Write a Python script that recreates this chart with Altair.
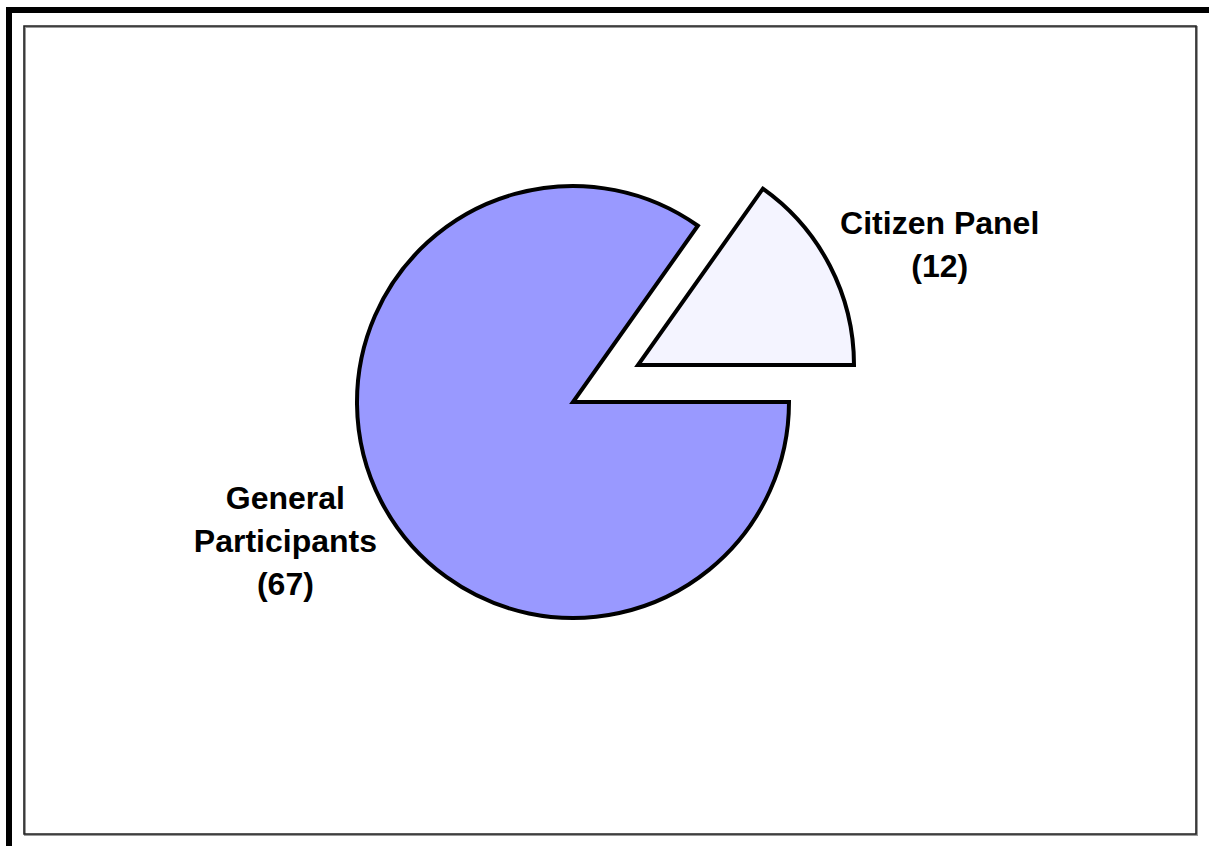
import math
import altair as alt
import pandas as pd

# ---- data ----
categories = ["General Participants", "Citizen Panel"]
values = [67, 12]
label_lines = ["General|Participants|(67)", "Citizen Panel|(12)"]
fills = ["#9999FF", "#F4F4FF"]

total = sum(values)
df = pd.DataFrame({"category": categories, "value": values, "label": label_lines, "fill": fills})
df["end"] = df["value"].cumsum()
df["start"] = df["end"] - df["value"]
df["mid"] = (df["start"] + df["end"]) / 2

W, H = 1209, 846
CX, CY = 573, 402
R = 216
EXPLODE_X, EXPLODE_Y = 65, -37

theta_scale = alt.Scale(domain=[0, total], range=[math.pi / 2, math.pi / 2 + 2 * math.pi])

base = alt.Chart(df)
frame_src = alt.Chart(pd.DataFrame({"k": [0]}))

outer_top = frame_src.mark_rule(color="black", strokeWidth=6, strokeCap="butt").encode(
    x=alt.value(6), x2=alt.value(W), y=alt.value(10)
)
outer_left = frame_src.mark_rule(color="black", strokeWidth=6, strokeCap="butt").encode(
    x=alt.value(9), y=alt.value(7), y2=alt.value(H)
)
inner_shadow = frame_src.mark_rect(fillOpacity=0, stroke="#9a9a9a", strokeWidth=2).encode(
    x=alt.value(25), x2=alt.value(1197), y=alt.value(27), y2=alt.value(835)
)
inner_frame = frame_src.mark_rect(fillOpacity=0, stroke="#222222", strokeWidth=1.6).encode(
    x=alt.value(24), x2=alt.value(1196), y=alt.value(26), y2=alt.value(834)
)

arc_common = dict(outerRadius=R, stroke="black", strokeWidth=4, strokeJoin="miter")

main_arc = base.transform_filter(alt.datum.category == "General Participants").mark_arc(**arc_common).encode(
    theta=alt.Theta("start:Q", scale=theta_scale),
    theta2="end:Q",
    fill=alt.Fill("fill:N", scale=None),
    x=alt.value(CX),
    y=alt.value(CY),
)
panel_arc = base.transform_filter(alt.datum.category == "Citizen Panel").mark_arc(
    xOffset=EXPLODE_X, yOffset=EXPLODE_Y, **arc_common
).encode(
    theta=alt.Theta("start:Q", scale=theta_scale),
    theta2="end:Q",
    fill=alt.Fill("fill:N", scale=None),
    x=alt.value(CX),
    y=alt.value(CY),
)

text_common = dict(font="Arial, Liberation Sans", fontWeight="bold", fontSize=32,
                   lineHeight=43, align="center", baseline="middle", color="black")

main_text = base.transform_filter(alt.datum.category == "General Participants").transform_calculate(
    lines="split(datum.label, '|')"
).mark_text(radius=317, dx=-6, dy=-49, **text_common).encode(
    theta=alt.Theta("mid:Q", scale=theta_scale),
    text=alt.Text("lines:N"),
    x=alt.value(CX),
    y=alt.value(CY),
)
panel_text = base.transform_filter(alt.datum.category == "Citizen Panel").transform_calculate(
    lines="split(datum.label, '|')"
).mark_text(radius=325, xOffset=EXPLODE_X, yOffset=EXPLODE_Y, dx=13, dy=8, **text_common).encode(
    theta=alt.Theta("mid:Q", scale=theta_scale),
    text=alt.Text("lines:N"),
    x=alt.value(CX),
    y=alt.value(CY),
)

chart = alt.layer(
    outer_top, outer_left, inner_shadow, inner_frame, main_arc, panel_arc, main_text, panel_text
).properties(
    width=W, height=H, autosize=alt.AutoSizeParams(type="none"), padding=0, background="white"
).configure_view(stroke=None)

chart.save("out.html", embed_options={"renderer": "svg", "actions": False})
